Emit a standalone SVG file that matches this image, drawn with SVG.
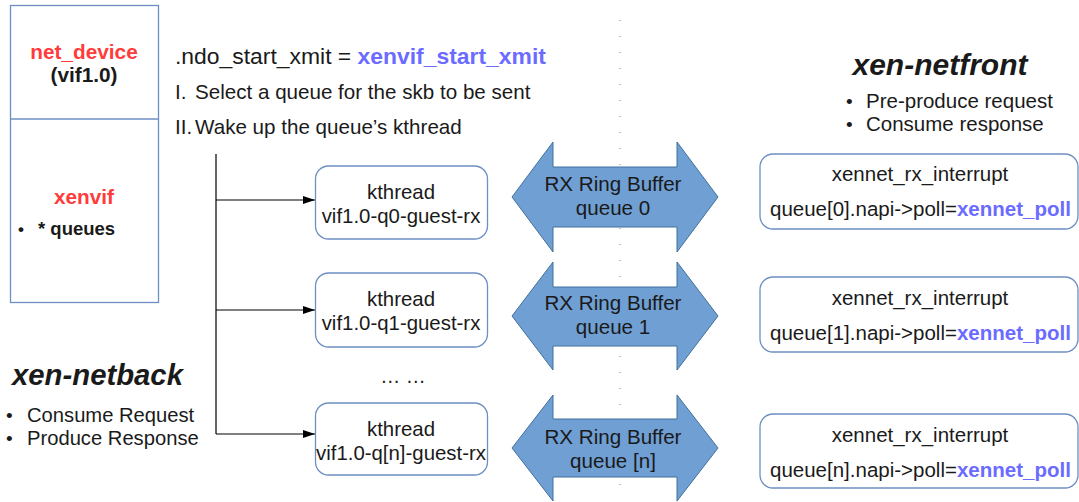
<svg xmlns="http://www.w3.org/2000/svg" width="1079" height="502" viewBox="0 0 1079 502">
<defs>
<style>
text{font-family:"Liberation Sans",Arial,sans-serif;fill:#1a1a1a}
.red{fill:#ff3b3b;font-weight:bold}
.blue{fill:#6b6bff;font-weight:bold}
.box{fill:#fff;stroke:#6d8fc4;stroke-width:1.3}
.dbl{fill:#6f9fd3;stroke:#41719c;stroke-width:1}
.c{text-anchor:middle}
.conn{stroke:#000;stroke-width:1.2;fill:none}
</style>
<marker id="ah" markerWidth="12" markerHeight="8" refX="12" refY="4" orient="auto" markerUnits="userSpaceOnUse"><path d="M0,0 L12,4 L0,8 z" fill="#000"/></marker>
</defs>
<rect width="1079" height="502" fill="#fff"/>
<line x1="620" y1="20" x2="620" y2="498" stroke="#888" stroke-width="1" stroke-dasharray="1 15"/>
<g id="netdev">
<rect x="10.5" y="5.5" width="148" height="297" fill="#fff" stroke="#6d8fc4" stroke-width="1.3"/>
<line x1="10.5" y1="119" x2="158.5" y2="119" stroke="#6d8fc4" stroke-width="1.3"/>
<text x="84" y="59" class="c red" font-size="20.8">net_device</text>
<text x="84" y="82" class="c" font-size="20.8" font-weight="bold">(vif1.0)</text>
<text x="84" y="204" class="c red" font-size="20.8">xenvif</text>
<text x="18" y="235" font-size="17" font-weight="bold">•</text>
<text x="38" y="235" font-size="18.5" font-weight="bold">* queues</text>
</g>
<g id="xmit">
<text x="175" y="64" font-size="22.9">.ndo_start_xmit = <tspan class="blue">xenvif_start_xmit</tspan></text>
<text x="175" y="99" font-size="20.6">I.<tspan x="195">Select a queue for the skb to be sent</tspan></text>
<text x="175" y="134" font-size="20.6">II.<tspan x="195">Wake up the queue’s kthread</tspan></text>
</g>
<g id="connectors">
<line class="conn" x1="216" y1="154" x2="216" y2="434"/>
<line class="conn" x1="216" y1="200" x2="315" y2="200" marker-end="url(#ah)"/>
<line class="conn" x1="216" y1="310" x2="315" y2="310" marker-end="url(#ah)"/>
<line class="conn" x1="216" y1="434" x2="315" y2="434" marker-end="url(#ah)"/>
</g>
<g id="kthread0">
<rect class="box" x="315.5" y="166" width="172" height="73" rx="13"/>
<text x="401" y="199" class="c" font-size="20.4">kthread</text>
<text x="401" y="223" class="c" font-size="20.4">vif1.0-q0-guest-rx</text>
</g>
<g id="kthread1">
<rect class="box" x="315.5" y="273" width="172" height="74" rx="13"/>
<text x="401" y="306" class="c" font-size="20.4">kthread</text>
<text x="401" y="330" class="c" font-size="20.4">vif1.0-q1-guest-rx</text>
</g>
<text x="403" y="383" class="c" font-size="20">… …</text>
<g id="kthreadn">
<rect class="box" x="315.5" y="403" width="172" height="72" rx="13"/>
<text x="401" y="436" class="c" font-size="20.4">kthread</text>
<text x="401" y="460" class="c" font-size="20.4">vif1.0-q[n]-guest-rx</text>
</g>
<g id="ring0">
<path class="dbl" d="M512,197 L553,142 L553,167 L677,167 L677,142 L718,197 L677,252 L677,227 L553,227 L553,252 Z"/>
<text x="613" y="191" class="c" font-size="20.6">RX Ring Buffer</text>
<text x="613" y="215" class="c" font-size="20.6">queue 0</text>
</g>
<g id="ring1">
<path class="dbl" d="M512,316 L553,262 L553,287 L677,287 L677,262 L718,316 L677,370 L677,346 L553,346 L553,370 Z"/>
<text x="613" y="310" class="c" font-size="20.6">RX Ring Buffer</text>
<text x="613" y="334" class="c" font-size="20.6">queue 1</text>
</g>
<g id="ringn">
<path class="dbl" d="M512,448 L553,395 L553,419 L677,419 L677,395 L718,448 L677,501 L677,477 L553,477 L553,501 Z"/>
<text x="613" y="444" class="c" font-size="20.6">RX Ring Buffer</text>
<text x="613" y="468" class="c" font-size="20.6">queue [n]</text>
</g>
<g id="netfront">
<text x="940" y="75" class="c" font-size="30" font-weight="bold" font-style="italic">xen-netfront</text>
<text x="846" y="108" font-size="19">•</text>
<text x="866" y="108" font-size="20.5">Pre-produce request</text>
<text x="846" y="131" font-size="19">•</text>
<text x="866" y="131" font-size="20.5">Consume response</text>
</g>
<g id="rx0">
<rect class="box" x="760" y="154" width="318" height="75" rx="13"/>
<text x="920" y="181" class="c" font-size="20.5">xennet_rx_interrupt</text>
<text x="770" y="216" font-size="20.5">queue[0].napi-&gt;poll=<tspan class="blue">xennet_poll</tspan></text>
</g>
<g id="rx1">
<rect class="box" x="760" y="277" width="318" height="75" rx="13"/>
<text x="920" y="305" class="c" font-size="20.5">xennet_rx_interrupt</text>
<text x="770" y="340" font-size="20.5">queue[1].napi-&gt;poll=<tspan class="blue">xennet_poll</tspan></text>
</g>
<g id="rxn">
<rect class="box" x="760" y="414" width="318" height="74" rx="13"/>
<text x="920" y="442" class="c" font-size="20.5">xennet_rx_interrupt</text>
<text x="770" y="477" font-size="20.5">queue[n].napi-&gt;poll=<tspan class="blue">xennet_poll</tspan></text>
</g>
<g id="netback">
<text x="12" y="385" font-size="29.3" font-weight="bold" font-style="italic">xen-netback</text>
<text x="6" y="422" font-size="19">•</text>
<text x="27" y="422" font-size="20.2">Consume Request</text>
<text x="6" y="445" font-size="19">•</text>
<text x="27" y="445" font-size="20.2">Produce Response</text>
</g>
</svg>
